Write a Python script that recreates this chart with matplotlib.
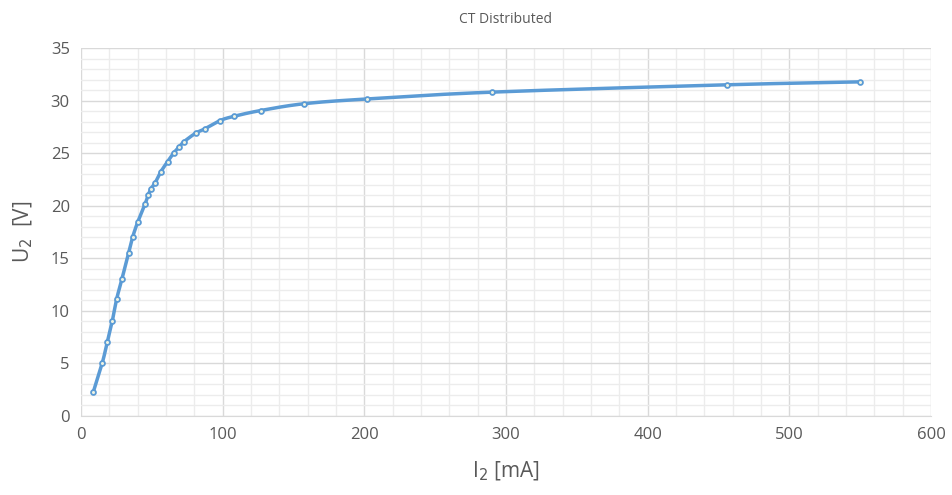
#U2 vs I2 curve, CT distributed
import matplotlib.pyplot as plt
from matplotlib.ticker import MultipleLocator
import numpy as np

# values
i2_ma = [8.7, 15.0, 18.6, 22.1, 25.2, 28.9, 33.7, 36.5, 40.0, 45.4, 47.5, 49.4,
         52.5, 56.3, 61.2, 65.4, 69.4, 72.9, 81.0, 87.3, 98.3, 108.0, 126.8,
         157.6, 201.7, 289.9, 456.0, 550.0]
u2_v = [2.25, 5.0, 7.0, 9.0, 11.1, 13.0, 15.5, 17.0, 18.4, 20.2, 21.0, 21.6,
        22.2, 23.2, 24.2, 25.0, 25.6, 26.1, 26.9, 27.3, 28.1, 28.5, 29.05,
        29.7, 30.15, 30.8, 31.5, 31.78]

x_ticks = [0, 100, 200, 300, 400, 500, 600]
y_ticks = [0, 5, 10, 15, 20, 25, 30, 35]

plt.rcParams['font.family'] = ['Open Sans', 'DejaVu Sans']

blue = '#5b9bd5'
grey_txt = '#595959'


def smooth(x, y, n=20):
    # Catmull-Rom style curve through the points, like a smoothed line in a spreadsheet
    p = np.column_stack([x, y]).astype(float)
    p = np.vstack([p[0] - (p[1] - p[0]), p, p[-1] + (p[-1] - p[-2])])
    out = []
    t = np.linspace(0, 1, n, endpoint=False)[:, None]
    for k in range(1, len(p) - 2):
        p0, p1, p2, p3 = p[k - 1], p[k], p[k + 1], p[k + 2]
        seg = 0.5 * ((2 * p1) + (-p0 + p2) * t + (2 * p0 - 5 * p1 + 4 * p2 - p3) * t ** 2
                     + (-p0 + 3 * p1 - 3 * p2 + p3) * t ** 3)
        out.append(seg)
    out.append(p[-2][None, :])
    out = np.vstack(out)
    return out[:, 0], out[:, 1]


fig = plt.figure(figsize=(9.52, 4.95), dpi=100)
ax = fig.add_axes([0.085, 0.16, 0.893, 0.743])

sx, sy = smooth(i2_ma, u2_v)
ax.plot(sx, sy, color=blue, linewidth=2.5, zorder=3)
ax.plot(i2_ma, u2_v, linestyle='none', marker='o', markersize=3.5,
        markerfacecolor='#eef3e2', markeredgecolor=blue, markeredgewidth=1.3, zorder=4)

ax.set_xlim(0, 600)
ax.set_ylim(0, 35)
ax.set_xticks(x_ticks)
ax.set_yticks(y_ticks)
ax.xaxis.set_minor_locator(MultipleLocator(20))
ax.yaxis.set_minor_locator(MultipleLocator(1))
ax.grid(which='major', color='#d9d9d9', linewidth=1.0)
ax.grid(which='minor', color='#ececec', linewidth=1.0)
ax.set_axisbelow(True)

for s in ['top', 'right', 'left']:
    ax.spines[s].set_visible(False)
ax.spines['bottom'].set_color('#d9d9d9')

ax.tick_params(which='both', length=0, labelsize=12, labelcolor=grey_txt, pad=8)

ax.set_xlabel('I$_2$ [mA]', fontsize=15, color=grey_txt, labelpad=12)
ax.set_ylabel('U$_2$  [V]', fontsize=15, color=grey_txt, labelpad=11)
ax.set_title('CT Distributed', fontsize=10, color=grey_txt, pad=18)

plt.savefig('out.png', dpi=100)
